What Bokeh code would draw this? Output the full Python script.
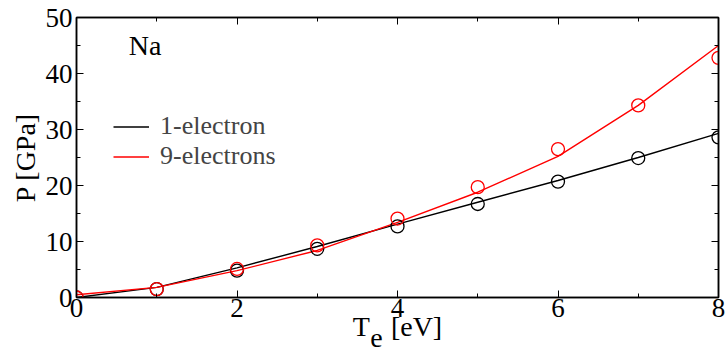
from bokeh.plotting import figure
from bokeh.models import Range1d, LinearAxis, FixedTicker, Label, Legend, LegendItem
from bokeh.embed import file_html
from bokeh.resources import INLINE

# ---- data ----
te = [0, 1, 2, 3, 4, 5, 6, 7, 8]
p_1e_points = [0.0, 1.5, 4.8, 8.7, 12.7, 16.7, 20.7, 24.9, 28.6]
p_9e_points = [0.0, 1.5, 5.1, 9.3, 14.1, 19.7, 26.5, 34.3, 42.8]
p_1e_line = [0.0, 1.8, 5.3, 9.1, 13.1, 17.0, 20.9, 25.0, 29.3]
p_9e_line = [0.5, 1.8, 4.8, 8.4, 13.4, 18.8, 25.2, 34.3, 45.0]
series_names = ["1-electron", "9-electrons"]
colors = ["black", "#ff0000"]
x_major_ticks = [0, 2, 4, 6, 8]
x_minor_ticks = [1, 3, 5, 7]
y_major_ticks = [0, 10, 20, 30, 40, 50]
y_minor_ticks = [5, 15, 25, 35, 45]
x_label_main = "T\u00a0\u00a0\u00a0[eV]"
x_label_sub = "e" + "\u00a0" * 6
y_label = "P [GPa]"
element_label = "Na"

FONT = "Liberation Serif"
FS = "27px"

p = figure(width=725, height=356, x_range=Range1d(0, 8), y_range=Range1d(0, 50),
           output_backend="svg", toolbar_location=None,
           min_border_left=76, min_border_right=7, min_border_top=17, min_border_bottom=59)
p.xgrid.visible = False
p.ygrid.visible = False
p.outline_line_color = "black"
p.outline_line_width = 1.5
p.background_fill_color = "white"
p.border_fill_color = "white"

bottom_axis = p.below[0]
left_axis = p.left[0]

def style_axis(ax, major, minor, show_labels, standoff):
    ax.ticker = FixedTicker(ticks=major, minor_ticks=minor)
    ax.major_tick_in = 7
    ax.major_tick_out = 0
    ax.minor_tick_in = 4
    ax.minor_tick_out = 0
    ax.axis_line_color = "black"
    ax.axis_line_width = 1.5
    ax.major_tick_line_width = 1
    ax.minor_tick_line_width = 1
    ax.major_label_text_font = FONT
    ax.major_label_text_color = "black"
    ax.major_label_text_font_size = FS
    if show_labels:
        ax.major_label_standoff = standoff
    else:
        ax.major_label_text_font_size = "1px"
        ax.major_label_overrides = {t: "" for t in major}
        ax.major_label_standoff = 0

style_axis(bottom_axis, x_major_ticks, x_minor_ticks, True, 1)
style_axis(left_axis, y_major_ticks, y_minor_ticks, True, 4)

# axis labels
for ax, txt, so in [(bottom_axis, x_label_main, -9), (left_axis, y_label, 2)]:
    ax.axis_label = txt
    ax.axis_label_text_font = FONT
    ax.axis_label_text_font_size = "28px"
    ax.axis_label_text_font_style = "normal"
    ax.axis_label_text_color = "black"
    ax.axis_label_standoff = so

top_axis = LinearAxis()
right_axis = LinearAxis()
style_axis(top_axis, x_major_ticks, x_minor_ticks, False, 0)
style_axis(right_axis, y_major_ticks, y_minor_ticks, False, 0)
p.add_layout(top_axis, "above")
p.add_layout(right_axis, "right")

# subscript "e" of T_e as the label of a tick-less second bottom axis
sub_axis = LinearAxis(ticker=FixedTicker(ticks=[], minor_ticks=[]), axis_line_color=None,
                      major_tick_line_color=None, minor_tick_line_color=None,
                      major_label_standoff=0, axis_label=x_label_sub,
                      axis_label_text_font=FONT, axis_label_text_font_size="28px",
                      axis_label_text_font_style="normal", axis_label_text_color="black",
                      axis_label_standoff=-23)
p.add_layout(sub_axis, "below")

l1 = p.line(te, p_1e_line, line_color=colors[0], line_width=1.4)
l2 = p.line(te, p_9e_line, line_color=colors[1], line_width=1.4)
p.scatter(te, p_1e_points, marker="circle", size=13, fill_color=None, line_color=colors[0], line_width=1.3)
p.scatter(te, p_9e_points, marker="circle", size=13, fill_color=None, line_color=colors[1], line_width=1.3)

legend = Legend(items=[LegendItem(label=series_names[0], renderers=[l1]),
                       LegendItem(label=series_names[1], renderers=[l2])],
                location=(37, 126), background_fill_alpha=0, border_line_alpha=0,
                padding=0, margin=0, spacing=0, glyph_width=36, glyph_height=29,
                label_height=29, label_standoff=11, label_text_font=FONT,
                label_text_font_size="26px")
p.add_layout(legend)

p.add_layout(Label(x=0.65, y=45.0, text=element_label, text_font=FONT, text_font_size="28px",
                   text_color="black", text_baseline="alphabetic", text_align="left"))

open("out.html", "w").write(file_html(p, INLINE))
